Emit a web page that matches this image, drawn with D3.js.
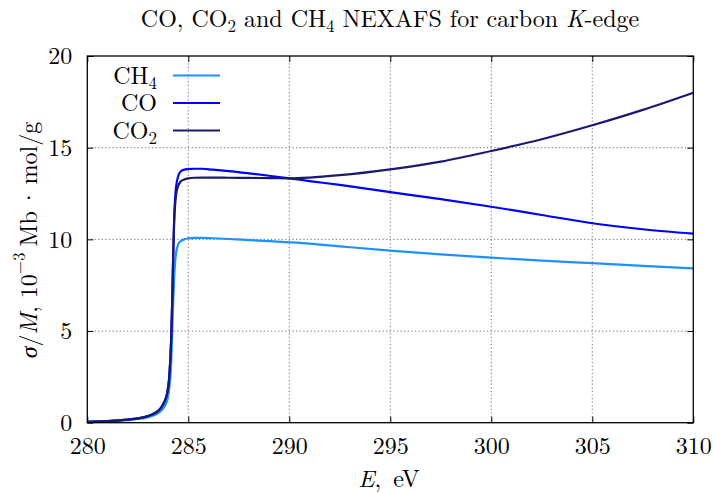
<!DOCTYPE html>
<html><head><meta charset="utf-8">
<script src="https://cdn.jsdelivr.net/npm/d3@7"></script>
<style>
body{margin:0;background:#fff;}
svg text{font-family:"Latin Modern Roman","Liberation Serif",serif;fill:#000;}
</style></head>
<body><svg id="c" width="713" height="493"></svg>
<script>
const energy = [280,281,282,282.5,283,283.3,283.6,283.8,283.95,284.05,284.15,284.2,284.25,284.3,284.35,284.4,284.5,284.6,284.8,285,285.3,285.7,286.2,287,288,289,290,291,292.5,295,297.5,300,302.5,305,307.5,310];
const coVals = [0.05,0.09,0.17,0.24,0.36,0.5,0.75,1.1,1.6,2.4,4.5,6.5,9.0,11.2,12.3,12.9,13.45,13.68,13.8,13.83,13.85,13.85,13.8,13.72,13.6,13.47,13.33,13.18,12.97,12.58,12.19,11.78,11.33,10.88,10.55,10.31];
const co2Vals = [0.05,0.09,0.17,0.24,0.36,0.5,0.75,1.1,1.6,2.4,4.5,6.5,9.0,10.9,11.9,12.45,12.92,13.13,13.27,13.33,13.36,13.37,13.37,13.36,13.35,13.34,13.33,13.37,13.5,13.82,14.24,14.82,15.46,16.22,17.06,18.0];
const ch4Vals = [0.04,0.07,0.14,0.2,0.3,0.4,0.6,0.85,1.2,1.8,3.2,4.8,6.5,7.9,8.8,9.3,9.72,9.88,10.0,10.05,10.08,10.08,10.06,10.02,9.96,9.9,9.84,9.77,9.62,9.38,9.18,9.0,8.84,8.7,8.55,8.42];
const xTicks = [280,285,290,295,300,305,310];
const yTicks = [0,5,10,15,20];
const seriesNames = ["CH4","CO","CO2"];
const seriesColors = ["#1e90ff","#0000ff","#191970"];

const FF = "Latin Modern Roman";
const svg = d3.select("#c");
const L=87.3, R=693.3, T=56, B=422.7;
const x = d3.scaleLinear().domain([280,310]).range([L,R]);
const y = d3.scaleLinear().domain([0,20]).range([B,T]);

// grid
const g = svg.append("g");
g.selectAll(".gx").data(xTicks.slice(1,-1)).enter().append("line")
 .attr("x1",d=>x(d)).attr("x2",d=>x(d)).attr("y1",T).attr("y2",B)
 .attr("stroke","#888").attr("stroke-width",1.2).attr("stroke-dasharray","1.2,2.4");
g.selectAll(".gy").data(yTicks.slice(1,-1)).enter().append("line")
 .attr("y1",d=>y(d)).attr("y2",d=>y(d)).attr("x1",L).attr("x2",R)
 .attr("stroke","#888").attr("stroke-width",1.2).attr("stroke-dasharray","1.2,2.4");

// axes
const axB = d3.axisBottom(x).tickValues(xTicks).tickSize(-6).tickPadding(14).tickFormat(d3.format("d"));
const axT = d3.axisTop(x).tickValues(xTicks).tickSize(-6).tickFormat("");
const axL = d3.axisLeft(y).tickValues(yTicks).tickSize(-6).tickPadding(15).tickFormat(d3.format("d"));
const axR = d3.axisRight(y).tickValues(yTicks).tickSize(-6).tickFormat("");
function styleAxis(sel){sel.attr("font-family",FF).attr("font-size",24);sel.select(".domain").remove();sel.selectAll("line").attr("stroke","#000").attr("stroke-width",1);sel.selectAll("text").style("font-family",FF).style("font-size","24px").attr("fill","#000");}
svg.append("g").attr("transform",`translate(0,${B})`).call(axB).call(styleAxis);
svg.append("g").attr("transform",`translate(0,${T})`).call(axT).call(styleAxis);
svg.append("g").attr("transform",`translate(${L},0)`).call(axL).call(styleAxis);
svg.append("g").attr("transform",`translate(${R},0)`).call(axR).call(styleAxis);

// data lines
const line = d3.line().x((d,i)=>x(energy[i])).y(d=>y(d)).curve(d3.curveMonotoneX);
const data = [ch4Vals, coVals, co2Vals];
svg.append("clipPath").attr("id","cp").append("rect").attr("x",L).attr("y",T).attr("width",R-L).attr("height",B-T);
data.forEach((vals,k)=>{
  svg.append("path").attr("d",line(vals)).attr("fill","none").attr("stroke",seriesColors[k]).attr("stroke-width",2.2).attr("clip-path","url(#cp)");
});

// frame
svg.append("rect").attr("x",L).attr("y",T).attr("width",R-L).attr("height",B-T).attr("fill","none").attr("stroke","#000").attr("stroke-width",1.3);

// legend
const legY=[75.5,103,130.5];
function chem(t, base, sub){ t.append("tspan").text(base); if(sub){t.append("tspan").attr("baseline-shift","-30%").style("font-size","17px").text(sub);} }
const labels=[["CH","4"],["CO",""],["CO","2"]];
labels.forEach((lb,k)=>{
  const t=svg.append("text").attr("x",157).attr("y",legY[k]+8).attr("text-anchor","end").style("font-size","24px");
  chem(t,lb[0],lb[1]);
  svg.append("line").attr("x1",173).attr("x2",220).attr("y1",legY[k]).attr("y2",legY[k]).attr("stroke",seriesColors[k]).attr("stroke-width",2.2);
});

// title
const tt = svg.append("text").attr("x",390).attr("y",27).attr("text-anchor","middle").style("font-size","24px");
tt.append("tspan").text("CO, CO");
tt.append("tspan").attr("baseline-shift","-30%").style("font-size","17px").text("2");
tt.append("tspan").text(" and CH");
tt.append("tspan").attr("baseline-shift","-30%").style("font-size","17px").text("4");
tt.append("tspan").text(" NEXAFS for carbon ");
tt.append("tspan").attr("font-style","italic").text("K");
tt.append("tspan").text("-edge");

// x label
const xl = svg.append("text").attr("x",389).attr("y",487).attr("text-anchor","middle").style("font-size","24px");
xl.append("tspan").attr("font-style","italic").text("E");
xl.append("tspan").text(",\u2002eV");

// y label
const yl = svg.append("text").attr("transform","translate(37,240) rotate(-90)").attr("text-anchor","middle").style("font-size","24px");
yl.append("tspan").attr("font-style","italic").text("σ");
yl.append("tspan").text("/");
yl.append("tspan").attr("font-style","italic").text("M");
yl.append("tspan").text(", 10");
yl.append("tspan").attr("baseline-shift","super").style("font-size","17px").text("−3");
yl.append("tspan").text("\u2005Mb\u2006·\u2006mol/g");
</script></body></html>
